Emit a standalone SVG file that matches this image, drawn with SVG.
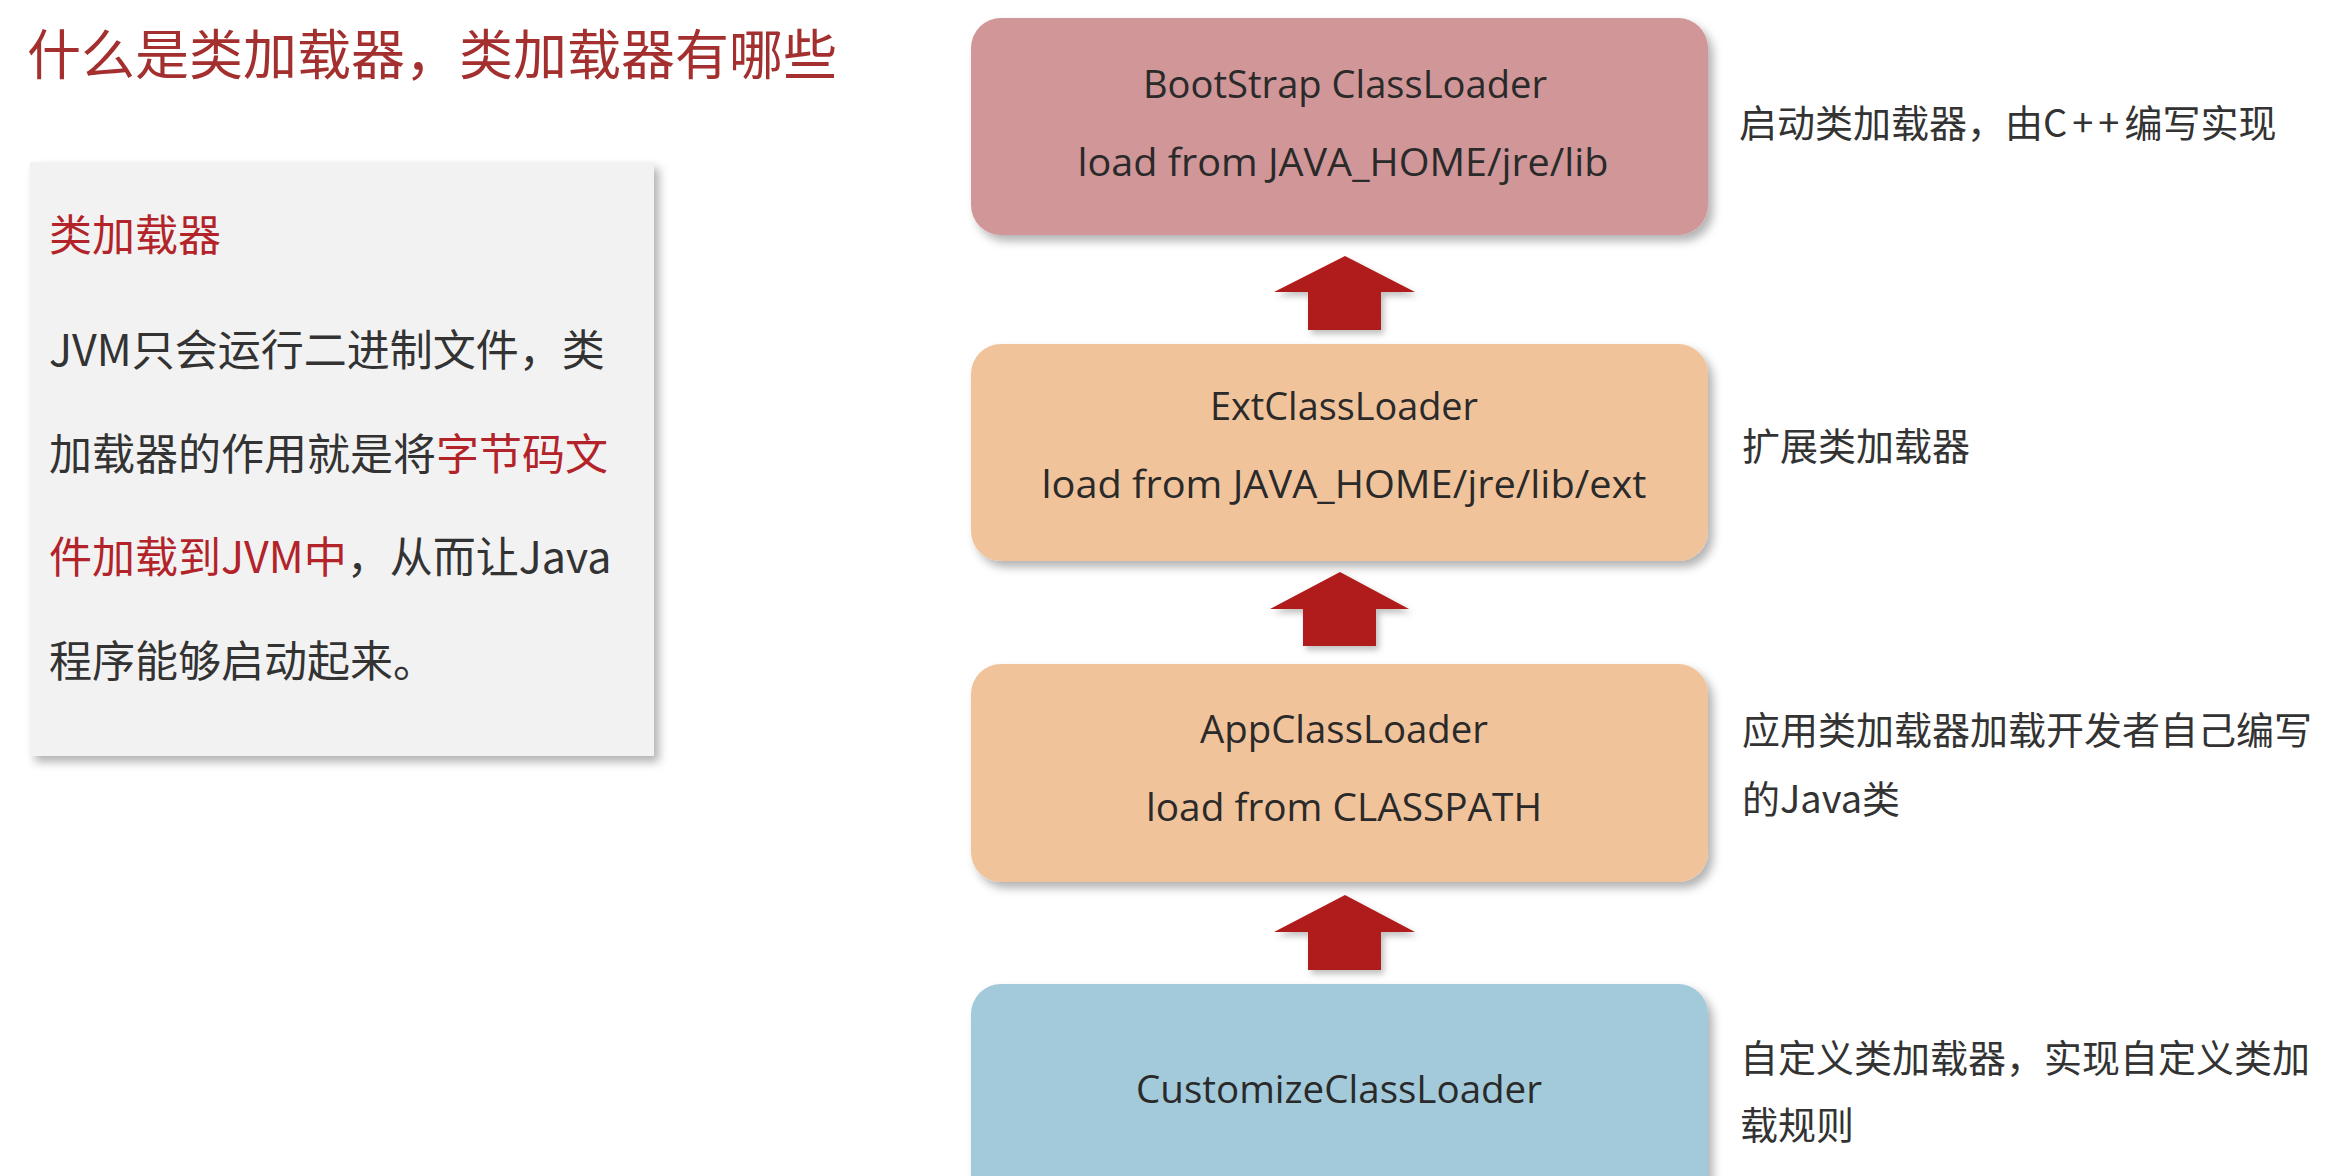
<svg xmlns="http://www.w3.org/2000/svg" width="2330" height="1176" viewBox="0 0 2330 1176">
  <defs>
    <filter id="shadow" x="-10%" y="-10%" width="125%" height="130%">
      <feDropShadow dx="5" dy="6" stdDeviation="5" flood-color="#000" flood-opacity="0.3"/>
    </filter>
    <filter id="ashadow" x="-20%" y="-20%" width="150%" height="150%">
      <feDropShadow dx="3" dy="4" stdDeviation="3" flood-color="#000" flood-opacity="0.25"/>
    </filter>
  </defs>
  <style>
    .cjk { font-family: "Noto Sans CJK SC", "Noto Sans", sans-serif; }
    .title { font-size: 54px; fill: #a3302f; }
    .body { font-size: 43px; fill: #333333; }
    .red { fill: #b3232a; }
    .desc { font-size: 38px; fill: #333333; }
    .lbl { font-family: "Open Sans", "Noto Sans", sans-serif; font-size: 39px; fill: #2a2a2a; text-anchor: middle; }
    .box { filter: url(#shadow); }
    .arrow { fill: #b01f1b; filter: url(#ashadow); }
  </style>
  <rect x="0" y="0" width="2330" height="1176" fill="#ffffff"/>

  <g id="title">
    <text class="cjk title" x="27" y="75">什么是类加载器，类加载器有哪些</text>
  </g>

  <g id="info-panel">
    <rect x="30" y="162" width="624" height="594" fill="#f2f2f2" filter="url(#shadow)"/>
    <text class="cjk body red" x="49" y="251">类加载器</text>
    <text class="cjk body" x="49" y="366">JVM只会运行二进制文件，类</text>
    <text class="cjk body" x="49" y="470">加载器的作用就是将<tspan class="red">字节码文</tspan></text>
    <text class="cjk body" x="49" y="573"><tspan class="red">件加载到JVM中</tspan>，从而让Java</text>
    <text class="cjk body" x="49" y="677">程序能够启动起来。</text>
  </g>

  <g id="connectors">
    <polygon class="arrow" points="1345,256 1415,292 1381,292 1381,330 1308,330 1308,292 1274,292"/>
    <polygon class="arrow" points="1340,572 1409,609 1376,609 1376,646 1303,646 1303,609 1270,609"/>
    <polygon class="arrow" points="1345,895 1415,932 1381,932 1381,970 1308,970 1308,932 1274,932"/>
  </g>

  <g id="bootstrap">
    <rect class="box" x="971" y="18" width="737" height="217" rx="30" fill="#d09698"/>
    <text class="lbl" x="1345" y="98" textLength="404" lengthAdjust="spacingAndGlyphs">BootStrap ClassLoader</text>
    <text class="lbl" x="1343" y="176" textLength="531" lengthAdjust="spacingAndGlyphs">load from JAVA_HOME/jre/lib</text>
  </g>

  <g id="ext">
    <rect class="box" x="971" y="344" width="737" height="217" rx="30" fill="#f1c39a"/>
    <text class="lbl" x="1344" y="420" textLength="268" lengthAdjust="spacingAndGlyphs">ExtClassLoader</text>
    <text class="lbl" x="1344" y="498" textLength="605" lengthAdjust="spacingAndGlyphs">load from JAVA_HOME/jre/lib/ext</text>
  </g>

  <g id="app">
    <rect class="box" x="971" y="664" width="737" height="218" rx="30" fill="#f1c39a"/>
    <text class="lbl" x="1344" y="743" textLength="288" lengthAdjust="spacingAndGlyphs">AppClassLoader</text>
    <text class="lbl" x="1344" y="821" textLength="396" lengthAdjust="spacingAndGlyphs">load from CLASSPATH</text>
  </g>

  <g id="customize">
    <rect class="box" x="971" y="984" width="737" height="260" rx="30" fill="#a3cadb"/>
    <text class="lbl" x="1339" y="1103" textLength="406" lengthAdjust="spacingAndGlyphs" fill="#1e2a30">CustomizeClassLoader</text>
  </g>

  <g id="desc-bootstrap">
    <text class="cjk desc" x="1739" y="137">启动类加载器，由<tspan letter-spacing="5">C++</tspan>编写实现</text>
  </g>
  <g id="desc-ext">
    <text class="cjk desc" x="1742" y="460">扩展类加载器</text>
  </g>
  <g id="desc-app">
    <text class="cjk desc" x="1742" y="744">应用类加载器加载开发者自己编写</text>
    <text class="cjk desc" x="1742" y="813">的Java类</text>
  </g>
  <g id="desc-customize">
    <text class="cjk desc" x="1740" y="1072">自定义类加载器，实现自定义类加</text>
    <text class="cjk desc" x="1740" y="1139">载规则</text>
  </g>
</svg>
